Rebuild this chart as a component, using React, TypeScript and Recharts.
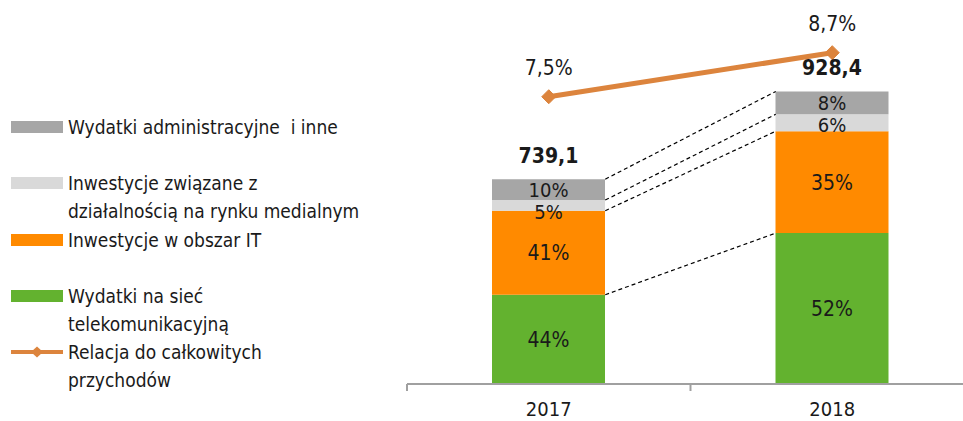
import React from 'react';
import { ComposedChart, Bar, Line, XAxis, YAxis, LabelList, ReferenceLine, Legend } from 'recharts';

// ---- data ----
const years = ['2017', '2018'];
const totals = [739.1, 928.4]; // mln PLN, shown above bars
const networkShare = [43.6, 51.6]; // Wydatki na sieć telekomunikacyjną (%)
const itShare = [41.0, 34.8]; // Inwestycje w obszar IT (%)
const mediaShare = [5.2, 5.8]; // Inwestycje związane z działalnością na rynku medialnym (%)
const adminShare = [10.2, 7.8]; // Wydatki administracyjne i inne (%)
const revenueRatio = [7.5, 8.7]; // Relacja do całkowitych przychodów (%)
const VALUE_AXIS_ORIGIN = 297; // value at which the (truncated) bar axis starts

const legendNames = {
  admin: 'Wydatki administracyjne  i inne',
  media: 'Inwestycje związane z\ndziałalnością na rynku medialnym',
  it: 'Inwestycje w obszar IT',
  network: 'Wydatki na sieć\ntelekomunikacyjną',
  ratio: 'Relacja do całkowitych\nprzychodów',
};
const legendOrder = ['admin', 'media', 'it', 'network', 'ratio'];

const COLORS = {
  admin: '#A6A6A6',
  media: '#D9D9D9',
  it: '#FF8A00',
  network: '#63B22F',
  ratio: '#DC843D',
};

const FONT = "'Liberation Sans Narrow', 'Arial Narrow', 'DejaVu Sans Condensed', sans-serif";
const BAR_SIZE = 113;
const HALF_BAR = BAR_SIZE / 2;
const HALF_BAND = 141.75;
const MEDIA_LABEL_SHIFT = [7, 2];

const comma = (v: number) => v.toFixed(1).replace('.', ',');
const pct = (v: number) => `${Math.round(v)}%`;

const data = years.map((year, i) => {
  const span = totals[i] - VALUE_AXIS_ORIGIN;
  const network = (networkShare[i] / 100) * span;
  const it = (itShare[i] / 100) * span;
  const media = (mediaShare[i] / 100) * span;
  const admin = (adminShare[i] / 100) * span;
  return {
    year,
    network,
    it,
    media,
    admin,
    networkLabel: pct(networkShare[i]),
    itLabel: pct(itShare[i]),
    mediaLabel: pct(mediaShare[i]),
    adminLabel: pct(adminShare[i]),
    totalLabel: comma(totals[i]),
    ratio: revenueRatio[i],
    ratioLabel: `${comma(revenueRatio[i])}%`,
    b1: network,
    b2: network + it,
    b3: network + it + media,
    b4: network + it + media + admin,
  };
});

const boundaryKeys = ['b1', 'b2', 'b3', 'b4'] as const;

const Connector = (props: any) => {
  const { x1, y1, x2, y2 } = props;
  if (x1 == null || y1 == null) return null;
  return (
    <line
      x1={x1 + HALF_BAR}
      y1={y1}
      x2={x2 - HALF_BAR}
      y2={y2}
      stroke="#000"
      strokeWidth={1.2}
      strokeDasharray="4 3"
    />
  );
};

const Diamond = (props: any) => {
  const { cx, cy } = props;
  if (cx == null || cy == null) return null;
  const r = 7;
  return (
    <polygon
      points={`${cx - r},${cy} ${cx},${cy - r} ${cx + r},${cy} ${cx},${cy + r}`}
      fill={COLORS.ratio}
      stroke={COLORS.ratio}
    />
  );
};

const YearTick = (props: any) => {
  const { x, y, payload } = props;
  return (
    <g>
      <line x1={x - HALF_BAND} y1={y} x2={x - HALF_BAND} y2={y + 7} stroke="#A0A0A0" strokeWidth={2} />
      <text x={x} y={y + 32} textAnchor="middle" fontSize={20} fontFamily={FONT} fill="#1a1a1a">
        {payload.value}
      </text>
    </g>
  );
};

const SmallSegmentLabel = (props: any) => {
  const { x, y, width, height, value, index } = props;
  const cx = Number(x) + Number(width) / 2;
  const cy = Number(y) + Number(height) / 2 + (MEDIA_LABEL_SHIFT[index] || 0);
  return (
    <text x={cx} y={cy} dy="0.355em" textAnchor="middle" fontFamily={FONT} fontSize={20} fill="#1a1a1a">
      {value}
    </text>
  );
};

const LegendContent = (props: any) => {
  const payload: any[] = props.payload || [];
  const byKey: Record<string, any> = {};
  payload.forEach((p) => {
    byKey[String(p.dataKey)] = p;
  });
  return (
    <div style={{ fontFamily: FONT, fontSize: 19, color: '#1a1a1a' }}>
      {legendOrder.map((key) => {
        const item = byKey[key];
        const color = item ? item.color : (COLORS as any)[key];
        const label = item ? item.value : (legendNames as any)[key];
        return (
          <div key={key} style={{ position: 'relative', height: 56.3 }}>
            <div style={{ position: 'absolute', left: 11, top: 8, width: 52, height: 12 }}>
              {key === 'ratio' ? (
                <svg width={52} height={12} style={{ display: 'block' }}>
                  <line x1={0} y1={6} x2={52} y2={6} stroke={color} strokeWidth={4} strokeLinecap="round" />
                  <polygon points="20,6 26,0.5 32,6 26,11.5" fill={color} />
                </svg>
              ) : (
                <div style={{ width: 52, height: 12, background: color }} />
              )}
            </div>
            <div style={{ position: 'absolute', left: 68, top: 0, lineHeight: '28px', whiteSpace: 'pre' }}>{label}</div>
          </div>
        );
      })}
    </div>
  );
};

const labelStyle = { fontFamily: FONT, fontSize: 21, fill: '#1a1a1a' };

export default function App() {
  return (
    <div style={{ position: 'absolute', left: 0, top: 0, width: 963, height: 421, overflow: 'hidden', background: '#fff', fontFamily: FONT }}>
      <ComposedChart width={980} height={421} data={data} margin={{ top: 5, right: 6, bottom: 0, left: 407 }}>
        <XAxis
          dataKey="year"
          xAxisId={0}
          height={37}
          tickLine={false}
          tickSize={0}
          tickMargin={0}
          axisLine={{ stroke: '#A0A0A0', strokeWidth: 2 }}
          tick={<YearTick />}
          interval={0}
        />
        <YAxis yAxisId="bars" hide domain={[0, 818]} allowDataOverflow />
        <YAxis yAxisId="ratio" hide orientation="right" domain={[-0.33, 10]} allowDataOverflow />
        <Legend
          layout="vertical"
          align="center"
          verticalAlign="middle"
          content={<LegendContent />}
          wrapperStyle={{ left: 0, top: 113, width: 400 }}
        />
        <Bar dataKey="network" name={legendNames.network} stackId="s" yAxisId="bars" fill={COLORS.network} barSize={BAR_SIZE} isAnimationActive={false}>
          <LabelList dataKey="networkLabel" position="center" style={labelStyle} />
        </Bar>
        <Bar dataKey="it" name={legendNames.it} stackId="s" yAxisId="bars" fill={COLORS.it} barSize={BAR_SIZE} isAnimationActive={false}>
          <LabelList dataKey="itLabel" position="center" style={labelStyle} />
        </Bar>
        <Bar dataKey="media" name={legendNames.media} stackId="s" yAxisId="bars" fill={COLORS.media} barSize={BAR_SIZE} isAnimationActive={false}>
          <LabelList dataKey="mediaLabel" content={<SmallSegmentLabel />} />
        </Bar>
        <Bar dataKey="admin" name={legendNames.admin} stackId="s" yAxisId="bars" fill={COLORS.admin} barSize={BAR_SIZE} isAnimationActive={false}>
          <LabelList dataKey="adminLabel" position="center" style={{ ...labelStyle, fontSize: 20 }} />
          <LabelList dataKey="totalLabel" position="top" offset={16} style={{ ...labelStyle, fontWeight: 'bold' }} />
        </Bar>
        {boundaryKeys.map((k) => (
          <ReferenceLine
            key={k}
            yAxisId="bars"
            segment={[
              { x: data[0].year, y: (data[0] as any)[k] },
              { x: data[1].year, y: (data[1] as any)[k] },
            ]}
            shape={<Connector />}
            ifOverflow="extendDomain"
          />
        ))}
        <Line
          dataKey="ratio"
          name={legendNames.ratio}
          yAxisId="ratio"
          stroke={COLORS.ratio}
          strokeWidth={5}
          dot={<Diamond />}
          activeDot={false}
          isAnimationActive={false}
        >
          <LabelList dataKey="ratioLabel" position="top" offset={22} style={labelStyle} />
        </Line>
      </ComposedChart>
    </div>
  );
}
